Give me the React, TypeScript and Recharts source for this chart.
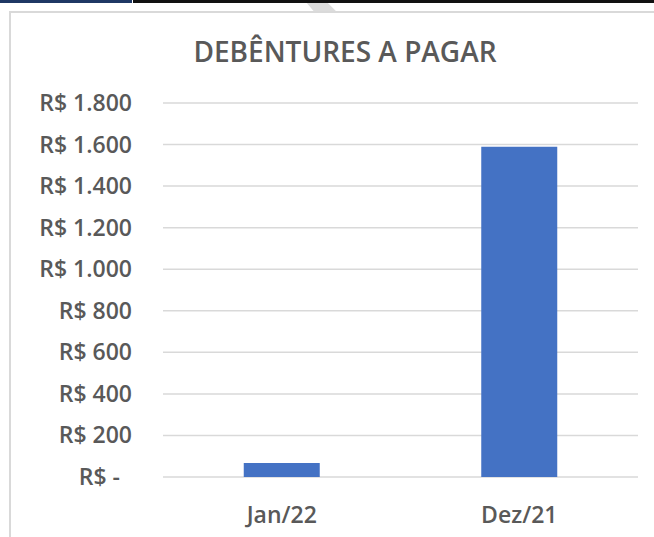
import { BarChart, Bar, XAxis, YAxis, CartesianGrid } from "recharts";

const periods = ["Jan/22", "Dez/21"];
const debentures = [67, 1590];
const yTicks = [0, 200, 400, 600, 800, 1000, 1200, 1400, 1600, 1800];

const rows = periods.map((p, i) => ({ period: p, value: debentures[i] }));

const gray = "#595959";
const font = "'Open Sans', Lato, sans-serif";

const fmtBRL = (v: number) =>
  v === 0 ? "R$ -" : "R$ " + v.toString().replace(/\B(?=(\d{3})+(?!\d))/g, ".");

function MoneyTick({ x, y, payload }: any) {
  const v = payload.value as number;
  // accounting format: the dash sits left of the digits column
  const shift = v === 0 ? 12 : 0;
  return (
    <text
      x={x - 23 - shift}
      y={y}
      dy={8}
      textAnchor="end"
      fill={gray}
      fontSize={23}
      fontWeight={600}
      fontFamily={font}
    >
      {fmtBRL(v)}
    </text>
  );
}

export default function App() {
  return (
    <div
      style={{
        position: "absolute",
        left: 0,
        top: 0,
        width: 654,
        height: 537,
        overflow: "hidden",
        background: "#fff",
      }}
    >
      {/* top strip of the slide behind the chart */}
      <div style={{ position: "absolute", left: 0, top: 0, width: 132, height: 3, background: "#1f3864" }} />
      <div style={{ position: "absolute", left: 133, top: 0, width: 521, height: 3, background: "#111" }} />
      <div
        style={{
          position: "absolute",
          left: 300,
          top: 3,
          width: 45,
          height: 9,
          background: "#dcdcdc",
          clipPath: "polygon(15% 0, 62% 0, 82% 100%, 32% 100%)",
        }}
      />
      {/* chart frame */}
      <div
        style={{
          position: "absolute",
          left: 9,
          top: 11,
          width: 700,
          height: 600,
          border: "2px solid #d9d9d9",
          boxSizing: "border-box",
        }}
      />
      <div
        style={{
          position: "absolute",
          left: 0,
          top: 32,
          width: 690,
          textAlign: "center",
          color: gray,
          fontFamily: font,
          fontWeight: 600,
          fontSize: 28,
        }}
      >
        DEBÊNTURES A PAGAR
      </div>
      <div style={{ position: "absolute", left: 0, top: 0 }}>
        <BarChart
          width={654}
          height={537}
          data={rows}
          margin={{ top: 103, right: 16, left: 0, bottom: 20 }}
          barCategoryGap="34%"
        >
          <CartesianGrid vertical={false} stroke="#d9d9d9" strokeWidth={1.5} />
          <XAxis
            dataKey="period"
            axisLine={false}
            tickLine={false}
            height={40}
            tick={{ fill: gray, fontSize: 23, fontWeight: 600, fontFamily: font }}
            dy={22}
          />
          <YAxis
            width={163}
            domain={[0, 1800]}
            ticks={yTicks}
            axisLine={false}
            tickLine={false}
            tick={<MoneyTick />}
          />
          <Bar dataKey="value" fill="#4472c4" isAnimationActive={false} />
        </BarChart>
      </div>
    </div>
  );
}
